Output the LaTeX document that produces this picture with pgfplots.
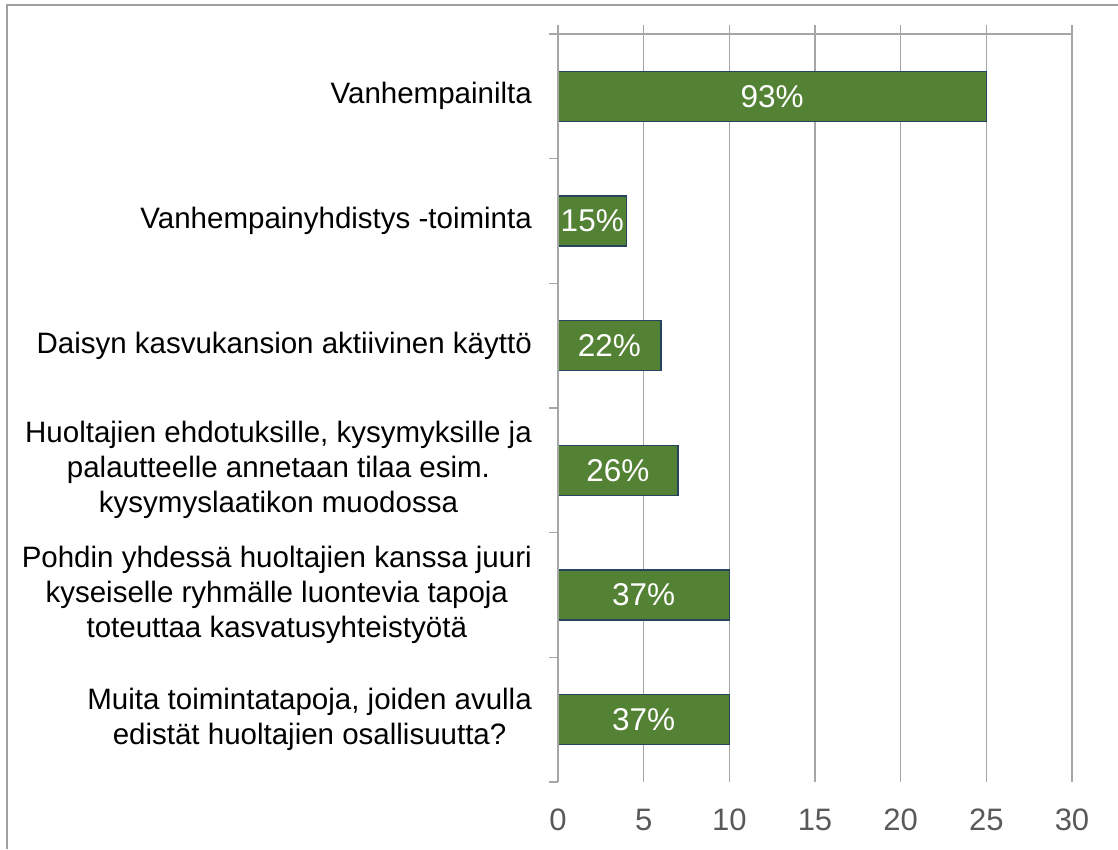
\documentclass[border=0pt]{standalone}
\usepackage{pgfplots}
\pgfplotsset{compat=1.18}
\usepackage{pgfplotstable}
\usepackage{fontspec}
\setmainfont{Liberation Sans}
\definecolor{bargreen}{RGB}{84,130,53}
\definecolor{baredge}{RGB}{38,68,96}
\definecolor{gridgray}{RGB}{166,166,166}
\definecolor{tickgray}{RGB}{89,89,89}
\definecolor{framegray}{RGB}{160,160,160}
\pgfplotstableread{
y v lab
0 10 37
1 10 37
2 7 26
3 6 22
4 4 15
5 25 93
}\data
\begin{document}
\begin{tikzpicture}
\useasboundingbox (-558pt,-67pt) rectangle (560pt,782pt);
\draw[framegray, line width=1.2pt] (-551pt,-67pt) -- (-551pt,777pt) -- (560pt,777pt);
\begin{axis}[
  at={(0pt,0pt)}, anchor=south west,
  scale only axis, width=514pt, height=748pt,
  xmin=0, xmax=30, ymin=-0.5, ymax=5.5,
  axis line style={draw=none},
  clip=false,
  xtick={0,5,...,30},
  xmajorgrids,
  major grid style={color=gridgray, line width=1.3pt},
  major tick length=0pt,
  /pgf/number format/assume math mode=true,
  xticklabel style={font=\fontsize{31}{37}\selectfont, text=tickgray, inner sep=0pt, anchor=north, yshift=-27pt},
  ytick={0,1,2,3,4,5},
  yticklabels={
    {Muita toimintatapoja, joiden avulla\\edistät huoltajien osallisuutta?},
    {Pohdin yhdessä huoltajien kanssa juuri\\kyseiselle ryhmälle luontevia tapoja\\toteuttaa kasvatusyhteistyötä},
    {Huoltajien ehdotuksille, kysymyksille ja\\palautteelle annetaan tilaa esim.\\kysymyslaatikon muodossa},
    {Daisyn kasvukansion aktiivinen käyttö},
    {Vanhempainyhdistys -toiminta},
    {Vanhempainilta}},
  yticklabel style={font=\fontsize{29.5}{35}\selectfont, align=center, anchor=east, inner sep=0pt, xshift=-26pt},
]
\addplot[xbar, bar width=50pt, fill=bargreen, draw=baredge, line width=1.5pt]
  table[x=v, y=y] {\data};
\addplot[draw=none, mark=none,
  point meta=explicit symbolic,
  nodes near coords={\pgfplotspointmeta\%},
  every node near coord/.style={text=white, font=\fontsize{31.5}{37}\selectfont, anchor=center, inner sep=0pt}]
  table[x expr=\thisrow{v}/2, y=y, meta=lab] {\data};
% axis lines and tick marks
\draw[gridgray, line width=1.3pt] (axis cs:0,-0.5) -- (axis cs:0,5.5) -- ++(0pt,9pt);
\draw[gridgray, line width=1.3pt] (axis cs:0,5.5) ++(-9pt,0pt) -- (axis cs:30,5.5);
\pgfplotsinvokeforeach{5,10,15,20,25,30}{
  \draw[gridgray, line width=1.3pt] (axis cs:#1,5.5) -- ++(0pt,9pt);
}
\pgfplotsinvokeforeach{-0.5,0.5,1.5,2.5,3.5,4.5}{
  \draw[gridgray, line width=1.3pt] (axis cs:0,#1) -- ++(-9pt,0pt);
}
\end{axis}
\end{tikzpicture}
\end{document}
